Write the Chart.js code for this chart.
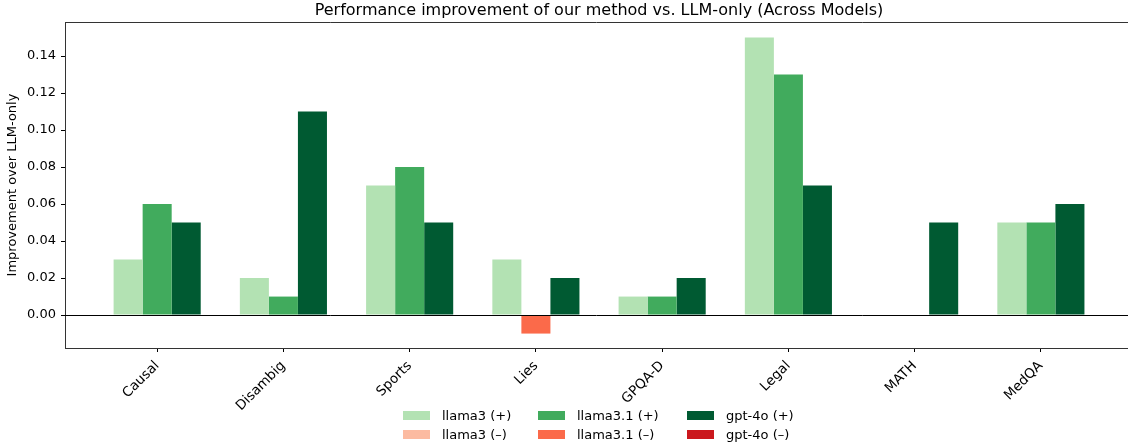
<!DOCTYPE html>
<html>
<head>
<meta charset="utf-8">
<script src="https://cdn.jsdelivr.net/npm/chart.js@4"></script>
<style>
  body { margin: 0; background: #fff; overflow: hidden; }
  #wrap { position: relative; width: 1128px; height: 445px; overflow: hidden; }
  #title {
    position: absolute; left: 299px; width: 600px; top: 0px; line-height: 20px;
    text-align: center; white-space: nowrap;
    font-family: "DejaVu Sans", sans-serif; font-size: 16px; color: #000;
  }
  #legend {
    position: absolute; left: 403px; top: 406px;
    display: grid; grid-template-columns: 135px 149px 150px; grid-auto-rows: 19px;
    font-family: "DejaVu Sans", sans-serif; font-size: 13px; color: #000;
  }
  .item { display: flex; align-items: center; }
  .box { width: 27px; height: 9px; margin-right: 12px; }
</style>
</head>
<body>
<div id="wrap">
  <canvas id="chart" width="1128" height="445"></canvas>
  <div id="title">Performance improvement of our method vs. LLM-only (Across Models)</div>
  <div id="legend"></div>
</div>
<script>
// Data
const categories = ['Causal', 'Disambig', 'Sports', 'Lies', 'GPQA-D', 'Legal', 'MATH', 'MedQA'];
const models = ['llama3', 'llama3.1', 'gpt-4o'];
const llama3Values = [0.03, 0.02, 0.07, 0.03, 0.01, 0.15, 0.00, 0.05];
const llama31Values = [0.06, 0.01, 0.08, -0.01, 0.01, 0.13, 0.00, 0.05];
const gpt4oValues = [0.05, 0.11, 0.05, 0.02, 0.02, 0.07, 0.05, 0.06];
const yTicks = [0, 0.02, 0.04, 0.06, 0.08, 0.10, 0.12, 0.14];

const posColors = ['#b3e2b3', '#41ab5d', '#005a32'];
const negColors = ['#fcbba1', '#fb6a4a', '#cb181d'];
const font = '"DejaVu Sans", sans-serif';

const seriesValues = [llama3Values, llama31Values, gpt4oValues];

const datasets = models.map((name, m) => ({
    label: name,
    data: seriesValues[m].map((v, i) => ({ x: i, y: v })),
    backgroundColor: seriesValues[m].map(v => v < 0 ? negColors[m] : posColors[m]),
    borderWidth: 0,
    categoryPercentage: 0.69,
    barPercentage: 1.0
}));

// top spine and zero line, drawn over the bars
const framePlugin = {
    id: 'frame',
    afterDatasetsDraw(chart) {
        const { ctx, chartArea } = chart;
        const y0 = Math.round(chart.scales.y.getPixelForValue(0)) + 0.5;
        ctx.save();
        ctx.lineWidth = 1;
        ctx.strokeStyle = '#000';
        ctx.beginPath();
        ctx.moveTo(chartArea.left, y0);
        ctx.lineTo(chartArea.right, y0);
        ctx.stroke();
        ctx.strokeStyle = '#333';
        ctx.beginPath();
        ctx.moveTo(chartArea.left, Math.round(chartArea.top) + 0.5);
        ctx.lineTo(chartArea.right, Math.round(chartArea.top) + 0.5);
        ctx.stroke();
        ctx.restore();
    }
};

new Chart(document.getElementById('chart').getContext('2d'), {
    type: 'bar',
    data: { datasets: datasets },
    plugins: [framePlugin],
    options: {
        responsive: false,
        animation: false,
        layout: { padding: { left: 0, right: 0, top: 22, bottom: 0 } },
        plugins: {
            legend: { display: false },
            tooltip: { enabled: false },
            title: { display: false }
        },
        scales: {
            x: {
                type: 'linear',
                offset: false,
                min: -0.73,
                max: 7.69,
                afterBuildTicks: (scale) => { scale.ticks = categories.map((_, i) => ({ value: i })); },
                afterFit: (scale) => { scale.height = 97; },
                ticks: {
                    callback: (v) => categories[v],
                    minRotation: 45,
                    maxRotation: 45,
                    color: '#000',
                    padding: 6,
                    font: { family: font, size: 13.5 }
                },
                grid: { offset: false, drawOnChartArea: false, tickLength: 4, tickColor: '#000' },
                border: { color: '#333', width: 1 }
            },
            y: {
                min: -0.0178,
                max: 0.1584,
                afterBuildTicks: (scale) => { scale.ticks = yTicks.map(v => ({ value: v })); },
                afterFit: (scale) => { scale.width = 65; },
                ticks: {
                    callback: (v) => v.toFixed(2),
                    color: '#000',
                    padding: 5,
                    font: { family: font, size: 13 }
                },
                grid: { drawOnChartArea: false, tickLength: 4, tickColor: '#000' },
                border: { color: '#333', width: 1 },
                title: {
                    display: true,
                    text: 'Improvement over LLM-only',
                    color: '#000',
                    padding: { top: 5, bottom: 0 },
                    font: { family: font, size: 13 }
                }
            }
        }
    }
});

// legend: 3 columns, positive row then negative row
const legend = document.getElementById('legend');
[['(+)', posColors], ['(\u2013)', negColors]].forEach(([sign, colors]) => {
    models.forEach((name, m) => {
        const item = document.createElement('div');
        item.className = 'item';
        item.innerHTML = `<span class="box" style="background:${colors[m]}"></span><span>${name} ${sign}</span>`;
        legend.appendChild(item);
    });
});
</script>
</body>
</html>
